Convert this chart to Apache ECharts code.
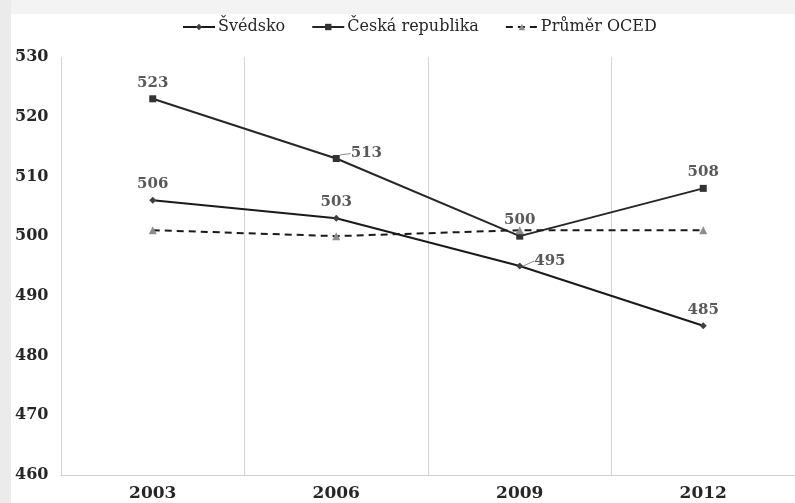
<!DOCTYPE html>
<html><head><meta charset="utf-8">
<script src="https://cdn.jsdelivr.net/npm/echarts@6/dist/echarts.min.js"></script>
<style>html,body{margin:0;padding:0;background:#fff}#c{width:795px;height:503px}</style>
</head><body><div id="c"></div>
<script>
const years = ['2003','2006','2009','2012'];
const svedsko = [506, 503, 495, 485];
const cesko = [523, 513, 500, 508];
const oecd = [501, 500, 501, 501];
const yTicks = {min: 460, max: 530, interval: 10};

const font = 'DejaVu Serif';
const chart = echarts.init(document.getElementById('c'));
const labelBase = {show:true, position:'top', color:'#595959', fontFamily:font, fontSize:15, fontWeight:'bold', distance:5};
function leader(idx){
  return function(p){
    if(p.dataIndex === idx){
      return {dx: 9, dy: -5};
    }
    return {};
  };
}
function withLeader(arr, idx){
  return arr.map((v,i)=> i===idx ? {value:v, label:{position:'right', distance:2},
    labelLine:{show:true, lineStyle:{color:'#8c8c8c', width:1}}} : v);
}
chart.setOption({
  backgroundColor:'#fff',
  animation:false,
  graphic:[
    {type:'rect', shape:{x:0,y:0,width:795,height:14}, style:{fill:'#f3f3f3'}, z:-1},
    {type:'rect', shape:{x:0,y:0,width:11,height:503}, style:{fill:'#ebebeb'}, z:-1}
  ],
  legend:{
    top:14, left:177, itemWidth:32, itemHeight:8, itemGap:26,
    textStyle:{fontFamily:font, fontSize:16, color:'#262626', padding:[0,0,0,-2]},
    data:['Švédsko','Česká republika','Průměr OCED']
  },
  grid:{left:61, right:-3, top:57, bottom:28},
  xAxis:{
    type:'category', data:years, boundaryGap:true,
    axisLine:{lineStyle:{color:'#d0d0d0'}},
    axisTick:{show:false},
    axisLabel:{fontFamily:font, fontSize:17, fontWeight:'bold', color:'#262626', margin:10},
    splitLine:{show:true, lineStyle:{color:'#d6d6d6'}}
  },
  yAxis:{
    type:'value', min:yTicks.min, max:yTicks.max, interval:yTicks.interval,
    axisLine:{show:false}, axisTick:{show:false}, splitLine:{show:false},
    axisLabel:{fontFamily:font, fontSize:16, fontWeight:'bold', color:'#262626', align:'left', margin:46}
  },
  series:[
    {name:'Švédsko', type:'line', symbol:'diamond', symbolSize:7,
     itemStyle:{color:'#404040'}, lineStyle:{color:'#1a1a1a', width:2},
     label:labelBase,
     labelLine:{show:false},
     labelLayout:leader(2),
     data: withLeader(svedsko, 2)},
    {name:'Česká republika', type:'line', symbol:'rect', symbolSize:7,
     itemStyle:{color:'#333333'}, lineStyle:{color:'#262626', width:2},
     label:labelBase,
     labelLine:{show:false},
     labelLayout:leader(1),
     data: withLeader(cesko, 1)},
    {name:'Průměr OCED', type:'line', data:oecd, symbol:'triangle', symbolSize:8,
     itemStyle:{color:'#8c8c8c'}, lineStyle:{color:'#1a1a1a', width:2, type:[7,5]}}
  ]
});
</script></body></html>
